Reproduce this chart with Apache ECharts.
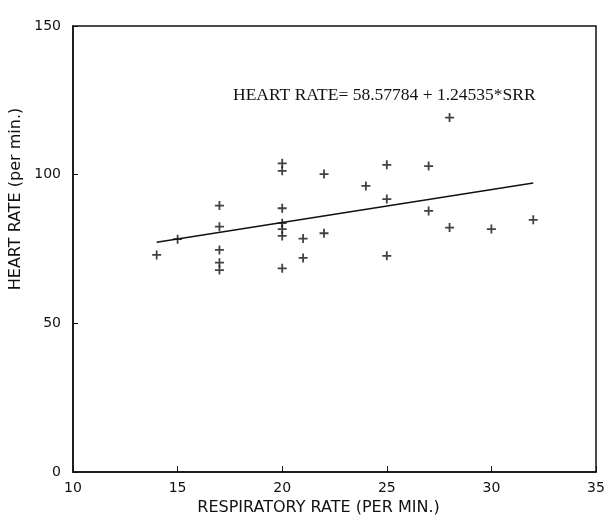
<!DOCTYPE html>
<html>
<head>
<meta charset="utf-8">
<script src="https://cdn.jsdelivr.net/npm/echarts@6/dist/echarts.min.js"></script>
<style>
  html, body { margin: 0; padding: 0; background: #fff; }
  #chart { width: 605px; height: 516px; }
</style>
</head>
<body>
<div id="chart"></div>
<script>
// respiratory rate (per min.) vs heart rate (per min.)
const respRate = [14, 15, 17, 17, 17, 17, 17, 20, 20, 20, 20, 20, 20, 20, 21, 21, 22, 22, 24, 25, 25, 25, 27, 27, 28, 28, 30, 32];
const heartRate = [73, 78.3, 89.6, 82.5, 74.7, 70.4, 67.9, 103.8, 101.3, 88.7, 83.7, 81.7, 79.4, 68.5, 78.5, 72, 100.2, 80.3, 96.2, 103.3, 91.8, 72.7, 102.9, 87.8, 119.2, 82.2, 81.7, 84.8];

// fitted line end points
const fitX = [14, 32];
const fitY = [77.3, 97.2];

const xTicks = [10, 15, 20, 25, 30, 35];
const yTicks = [0, 50, 100, 150];
const equation = 'HEART RATE= 58.57784 + 1.24535*SRR';

const points = respRate.map((x, i) => [x, heartRate[i]]);
const fitLine = fitX.map((x, i) => [x, fitY[i]]);

const plus = 'path://M4,0 L6,0 L6,4 L10,4 L10,6 L6,6 L6,10 L4,10 L4,6 L0,6 L0,4 L4,4 Z';
const ink = '#111';

const chart = echarts.init(document.getElementById('chart'), null, { renderer: 'canvas' });

chart.setOption({
  backgroundColor: '#fff',
  animation: false,
  grid: { left: 73, right: 9, top: 26, bottom: 44, containLabel: false, outerBoundsMode: 'none' },
  xAxis: {
    type: 'value',
    min: xTicks[0],
    max: xTicks[xTicks.length - 1],
    interval: 5,
    name: 'RESPIRATORY RATE (PER MIN.)',
    nameLocation: 'middle',
    nameGap: 25,
    nameTextStyle: { color: ink, fontFamily: 'DejaVu Sans', fontSize: 16, padding: [0, 32, 0, 0] },
    axisLine: { lineStyle: { color: ink, width: 1.5 } },
    axisTick: { inside: true, length: 6, lineStyle: { color: ink } },
    axisLabel: { color: ink, fontFamily: 'DejaVu Sans', fontSize: 14, margin: 9 },
    splitLine: { show: false }
  },
  yAxis: {
    type: 'value',
    min: yTicks[0],
    max: yTicks[yTicks.length - 1],
    interval: 50,
    name: 'HEART RATE (per min.)',
    nameLocation: 'middle',
    nameGap: 39,
    nameRotate: 90,
    nameTextStyle: { color: ink, fontFamily: 'DejaVu Sans', fontSize: 16, padding: [0, 0, 0, 100] },
    axisLine: { lineStyle: { color: ink, width: 1.5 } },
    axisTick: { inside: true, length: 5, lineStyle: { color: ink } },
    axisLabel: { color: ink, fontFamily: 'DejaVu Sans', fontSize: 14, margin: 12 },
    splitLine: { show: false }
  },
  graphic: [
    {
      type: 'rect',
      shape: { x: 73, y: 26, width: 523, height: 446 },
      style: { fill: 'none', stroke: ink, lineWidth: 1.5 },
      silent: true,
      z: -1
    },
    {
      type: 'text',
      left: 233,
      top: 86,
      style: { text: equation, fill: ink, font: '17.5px "Liberation Serif"' }
    }
  ],
  series: [
    {
      type: 'line',
      data: fitLine,
      symbol: 'none',
      lineStyle: { color: ink, width: 1.5 },
      z: 2
    },
    {
      type: 'scatter',
      data: points,
      symbol: plus,
      symbolSize: 9,
      itemStyle: { color: ink },
      z: 3
    }
  ]
});
</script>
</body>
</html>
